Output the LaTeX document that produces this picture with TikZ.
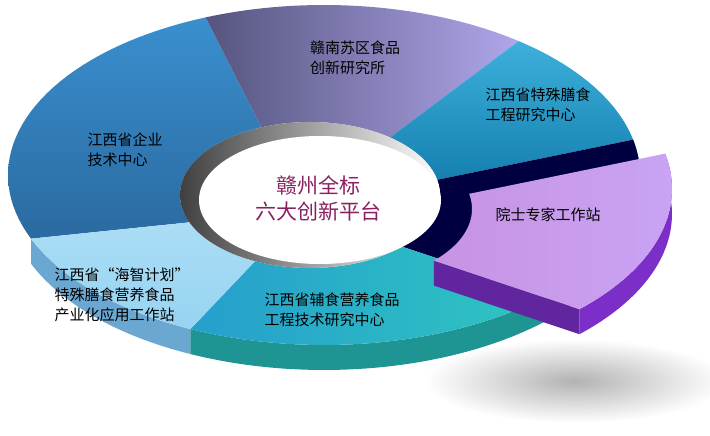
\documentclass[tikz,border=0pt]{standalone}
\usepackage{fontspec}
\setmainfont{Noto Sans CJK SC}
\usetikzlibrary{positioning}
\definecolor{qiye}{HTML}{3A8FCF}
\definecolor{qiyeb}{HTML}{2A6AA0}
\definecolor{gannan}{HTML}{55557F}
\definecolor{gannanb}{HTML}{B0A6EA}
\definecolor{teshu}{HTML}{1BA2D4}
\definecolor{teshub}{HTML}{1580B0}
\definecolor{yuanshi}{HTML}{C9A3F4}
\definecolor{yuanshib}{HTML}{7B2FC8}
\definecolor{fushi}{HTML}{2FC6C0}
\definecolor{fushib}{HTML}{1E9592}
\definecolor{haizhi}{HTML}{96D4F2}
\definecolor{haizhib}{HTML}{6AA8D2}
\definecolor{title}{HTML}{8B2060}
\tikzset{lbl/.style={align=left,font=\fontsize{15}{20}\selectfont,inner sep=0pt}}
% ring part: #1 from angle, #2 to angle
\newcommand\ringpart[2]{({324+316*cos(#1)},{261+170*sin(#1)})
  -- plot[domain=#1:#2,samples=40] ({324+316*cos(\x)},{261+170*sin(\x)})
  -- plot[domain=#2:#1,samples=40] ({310+130*cos(\x)},{241+73*sin(\x)}) -- cycle}
\newcommand\ringside[2]{plot[domain=#1:#2,samples=40] ({324+316*cos(\x)},{261+170*sin(\x)})
  -- plot[domain=#2:#1,samples=40] ({324+316*cos(\x)},{236+170*sin(\x)}) -- cycle}

\begin{document}
\begin{tikzpicture}[x=1pt,y=1pt]
  \useasboundingbox (0,0) rectangle (710,436);
  \shade[inner color=gray!60, outer color=white] (575,55) ellipse (150 and 42);

  % sides
  \fill[haizhib] \ringside{202}{245};
  \fill[fushib] \ringside{245}{315};
  \fill[teshub] \ringside{355}{372};
  \fill[black!70!blue] \ringside{315}{360};

  % top faces
  \shade[top color=qiye, bottom color=qiyeb] \ringpart{112}{202};
  \shade[left color=gannan, right color=gannanb] \ringpart{52}{112};
  \shade[top color=teshu!85!white, bottom color=teshub] \ringpart{12}{52};
  \fill[black!75!blue] \ringpart{-45}{12};
  \shade[left color=fushi!80!blue, right color=fushi] \ringpart{245}{315};
  \shade[top color=haizhi!80!white, bottom color=haizhi] \ringpart{202}{245};

  % hole
  \shade[left color=black!75, right color=white] (310,241) ellipse (130 and 73);
  \fill[white] (320,236) ellipse (121 and 64);
  \node[font=\fontsize{21}{26}\selectfont, text=title, align=center] (center) at (318,238) {赣州全标\\六大创新平台};

  % exploded part
  \begin{scope}[shift={(32,-14)}]
    \fill[yuanshib] \ringside{315}{372};
    \fill[yuanshib!80!black] ({324+316*cos(-45)},{261+170*sin(-45)}) -- ({310+130*cos(-45)},{241+73*sin(-45)})
      -- ({310+130*cos(-45)},{216+73*sin(-45)}) -- ({324+316*cos(-45)},{236+170*sin(-45)}) -- cycle;
    \shade[left color=yuanshi!90!purple, right color=yuanshi] \ringpart{-45}{12};
  \end{scope}

  % labels
  \node[lbl] (gannan) at (355,378) {赣南苏区食品\\创新研究所};
  \node[lbl] (teshu) at (538,331) {江西省特殊膳食\\工程研究中心};
  \node[lbl] (qiye) at (125,286) {江西省企业\\技术中心};
  \node[lbl] (yuanshi) at (548,221) {院士专家工作站};
  \node[lbl] (haizhi) at (122,141) {江西省“海智计划”\\特殊膳食营养食品\\产业化应用工作站};
  \node[lbl] (fushi) at (332,126) {江西省辅食营养食品\\工程技术研究中心};
\end{tikzpicture}
\end{document}
